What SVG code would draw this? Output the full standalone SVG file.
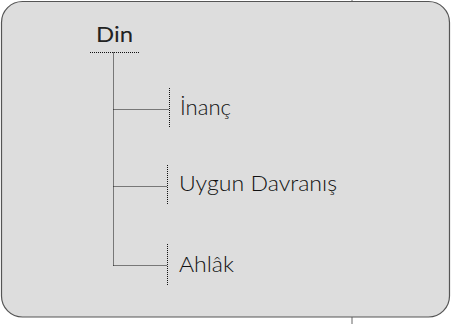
<svg xmlns="http://www.w3.org/2000/svg" width="451" height="324" viewBox="0 0 451 324">
<style>
.box{fill:#dddddd;stroke:#555555;stroke-width:1.2}
.tick{stroke:#666666;stroke-width:1}
.dot{fill:none;stroke:#111111;stroke-width:1;stroke-dasharray:1 1}
.lbl{font-family:Lato,"Liberation Sans",sans-serif;font-size:22px;fill:#222222}
.leaf{font-weight:300;fill:#111111}
</style>
<rect width="451" height="324" fill="#ffffff"/>
<line class="tick" x1="352" y1="0" x2="352" y2="3"/>
<line class="tick" x1="352" y1="317" x2="352" y2="324"/>
<rect class="box" x="1.5" y="1.5" width="448" height="315.5" rx="21" ry="21"/>
<g id="connectors">
<path class="dot" d="M90 52.5H140M113.5 52.5V265.5M113.5 109.5H169.5M169.5 88V128M113.5 186.5H167.5M167.5 165V205M113.5 265.5H167.5M167.5 244V285"/>
</g>
<g id="node-din"><text class="lbl" x="96" y="41.5" textLength="37" lengthAdjust="spacingAndGlyphs">Din</text></g>
<g id="node-inanc"><text class="lbl leaf" x="180" y="114.5" textLength="51" lengthAdjust="spacingAndGlyphs">İnanç</text></g>
<g id="node-uygun"><text class="lbl leaf" x="179" y="191" textLength="158" lengthAdjust="spacingAndGlyphs">Uygun Davranış</text></g>
<g id="node-ahlak"><text class="lbl leaf" x="179" y="272" textLength="55" lengthAdjust="spacingAndGlyphs">Ahlâk</text></g>
</svg>
